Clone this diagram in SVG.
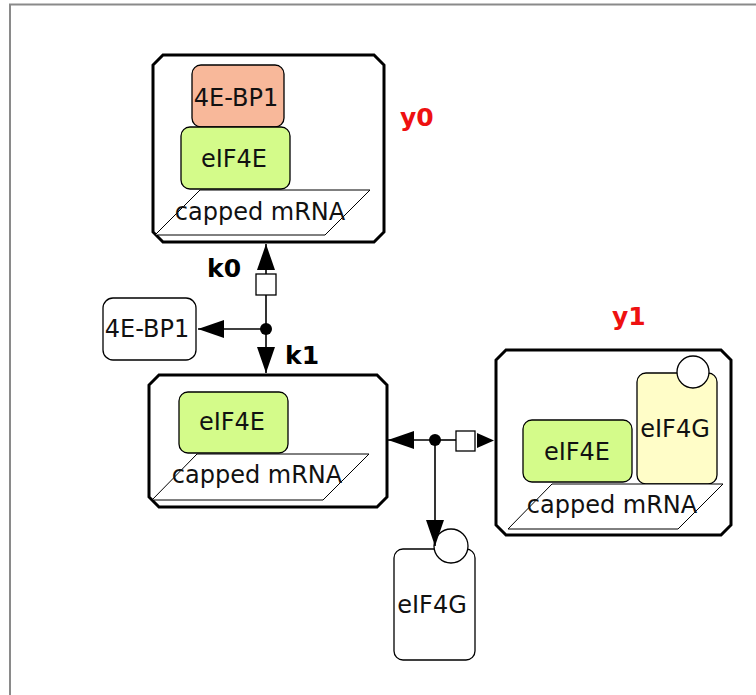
<svg xmlns="http://www.w3.org/2000/svg" width="756" height="695" viewBox="0 0 756 695">
<defs>
<style>
.cx{fill:#fff;stroke:#000;stroke-width:3}
.in{stroke:#000;stroke-width:1.3}
.t{font-family:"DejaVu Sans",sans-serif;font-size:24px;fill:#111;text-anchor:middle}
.lbl{font-family:"DejaVu Sans",sans-serif;font-size:25px;font-weight:bold}
.ln{stroke:#000;stroke-width:1.6;fill:none}
</style>
<marker id="ah" viewBox="0 0 26 18" refX="26" refY="9" markerWidth="26" markerHeight="18" markerUnits="userSpaceOnUse" orient="auto"><path d="M0,0L26,9L0,18z" fill="#000"/></marker>
</defs>
<rect x="10" y="4.5" width="760" height="700" fill="#fff" stroke="#8a8a8a" stroke-width="2"/>

<g id="y0">
<path class="cx" d="M163,55H374L384,65V232L374,242H163L153,232V65Z"/>
<rect class="in" x="192" y="65" width="92" height="62" rx="9" fill="#f8b89a"/>
<text class="t" x="236" y="106">4E-BP1</text>
<rect class="in" x="181" y="127" width="109" height="62" rx="9" fill="#d4fb8a"/>
<text class="t" x="234" y="167">eIF4E</text>
<path d="M200,190H370L325,235H155Z" fill="#fff" stroke="#000" stroke-width="1"/>
<text class="t" x="260" y="220">capped mRNA</text>
<text class="lbl" x="400" y="126" fill="#ee1111">y0</text>
</g>

<g id="bp1">
<rect x="103" y="298" width="93" height="62" rx="10" fill="#fff" stroke="#000" stroke-width="1.3"/>
<text class="t" x="147" y="337">4E-BP1</text>
</g>

<g id="mid">
<path class="cx" d="M159,375H377L387,385V497L377,507H159L149,497V385Z"/>
<rect class="in" x="179" y="392" width="109" height="61" rx="9" fill="#d4fb8a"/>
<text class="t" x="232" y="430">eIF4E</text>
<path d="M197,454H369L323,500H152Z" fill="#fff" stroke="#000" stroke-width="1"/>
<text class="t" x="257" y="483">capped mRNA</text>
</g>

<g id="y1">
<path class="cx" d="M506,350H721L731,360V525L721,535H506L496,525V360Z"/>
<rect class="in" x="637" y="373" width="80" height="111" rx="9" fill="#fffdc8"/>
<circle cx="693" cy="372" r="16" fill="#fff" stroke="#000" stroke-width="1.3"/>
<text class="t" x="675" y="437">eIF4G</text>
<rect class="in" x="523" y="420" width="109" height="62" rx="9" fill="#d4fb8a"/>
<text class="t" x="577" y="460">eIF4E</text>
<path d="M552,484H723L678,529H508Z" fill="#fff" stroke="#000" stroke-width="1"/>
<text class="t" x="612" y="513">capped mRNA</text>
<text class="lbl" x="612" y="325" fill="#ee1111">y1</text>
</g>

<g id="g4g">
<rect x="394" y="549" width="81" height="111" rx="9" fill="#fff" stroke="#000" stroke-width="1.3"/>
<circle cx="451" cy="546" r="17" fill="#fff" stroke="#000" stroke-width="1.3"/>
<text class="t" x="432" y="613">eIF4G</text>
</g>

<g id="connectors">
<line class="ln" x1="266" y1="329" x2="266" y2="295"/>
<line class="ln" x1="266" y1="276" x2="266" y2="244" marker-end="url(#ah)"/>
<rect x="256" y="274" width="20" height="21" fill="#fff" stroke="#000" stroke-width="1.3"/>
<line class="ln" x1="266" y1="329" x2="198" y2="329" marker-end="url(#ah)"/>
<line class="ln" x1="266" y1="329" x2="266" y2="373" marker-end="url(#ah)"/>
<circle cx="266" cy="329" r="6" fill="#000"/>
<text class="lbl" x="207" y="277" fill="#000">k0</text>
<text class="lbl" x="285" y="364" fill="#000">k1</text>

<line class="ln" x1="435" y1="440" x2="388" y2="440" marker-end="url(#ah)"/>
<line class="ln" x1="435" y1="440" x2="456" y2="440"/>
<rect x="456" y="431" width="19" height="20" fill="#fff" stroke="#000" stroke-width="1.3"/>
<path d="M477,433L494,440.5L477,448Z" fill="#000"/>
<line class="ln" x1="435" y1="440" x2="435" y2="546" marker-end="url(#ah)"/>
<circle cx="435" cy="440" r="6" fill="#000"/>
</g>
</svg>
